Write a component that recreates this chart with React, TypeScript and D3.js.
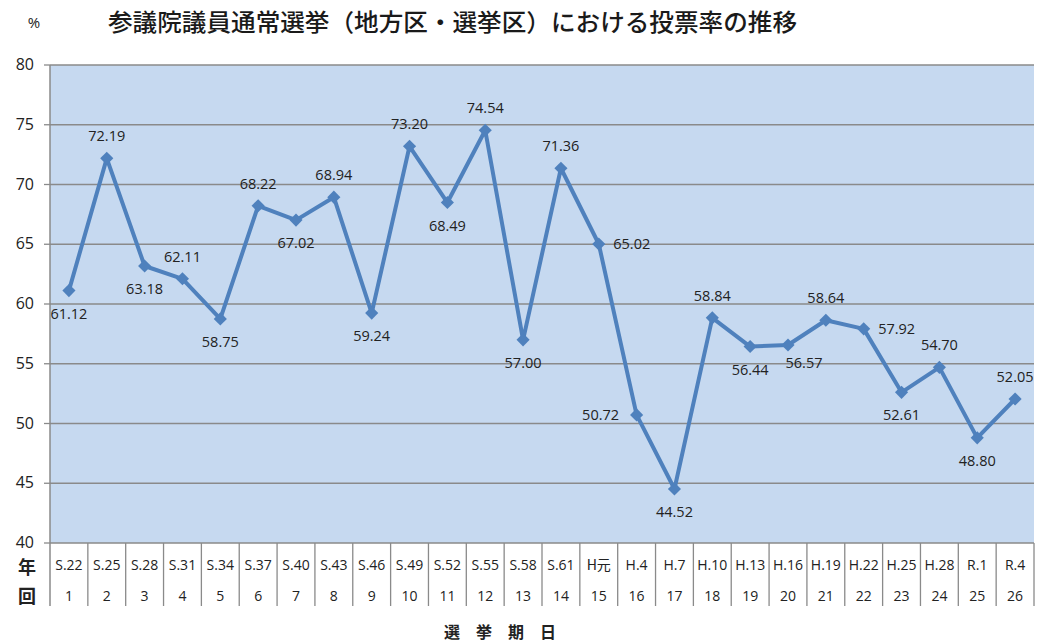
import { useEffect } from 'react';
import * as d3 from 'd3';

const title = '参議院議員通常選挙（地方区・選挙区）における投票率の推移';
const eraLabels = ['S.22', 'S.25', 'S.28', 'S.31', 'S.34', 'S.37', 'S.40', 'S.43', 'S.46', 'S.49', 'S.52', 'S.55', 'S.58', 'S.61', 'H元', 'H.4', 'H.7', 'H.10', 'H.13', 'H.16', 'H.19', 'H.22', 'H.25', 'H.28', 'R.1', 'R.4'];
const rounds = d3.range(1, 27);
const turnout = [61.12, 72.19, 63.18, 62.11, 58.75, 68.22, 67.02, 68.94, 59.24, 73.2, 68.49, 74.54, 57.0, 71.36, 65.02, 50.72, 44.52, 58.84, 56.44, 56.57, 58.64, 57.92, 52.61, 54.7, 48.8, 52.05];
const yTicks = [40, 45, 50, 55, 60, 65, 70, 75, 80];

// where each value label sits relative to its marker
const labelPos = ['b', 't', 'b', 't', 'b', 't', 'b', 't', 'b', 't', 'b', 't', 'b', 't', 'r', 'l', 'b', 't', 'b', 'br', 't', 'r', 'b', 't', 'b', 't'];

const W = 1054;
const H = 643;
const margin = { top: 65, right: 20, bottom: 100, left: 50 };
const FONT = '"Open Sans", "Noto Sans", sans-serif';
const JP = '"Noto Sans CJK JP", sans-serif';

export default function App() {
  useEffect(() => {
    document.body.style.margin = '0';
  }, []);

  const x = d3.scaleBand<number>()
    .domain(rounds)
    .range([margin.left, W - margin.right]);
  const y = d3.scaleLinear().domain([40, 80]).range([H - margin.bottom, margin.top]);

  const cx = (i: number) => (x(rounds[i]) ?? 0) + x.bandwidth() / 2;
  const line = d3.line<number>()
    .x((_, i) => cx(i))
    .y((d) => y(d));

  const plotBottom = y(40);
  const tableBottom = plotBottom + 63;
  const grey = '#8a8a8a';

  const offset = (p: string) => {
    switch (p) {
      case 't': return { dx: 0, dy: -17 };
      case 'b': return { dx: 0, dy: 28 };
      case 'r': return { dx: 33, dy: 5 };
      case 'l': return { dx: -36, dy: 5 };
      case 'br': return { dx: 16, dy: 23 };
      default: return { dx: 0, dy: 0 };
    }
  };

  return (
    <svg width={W} height={H} style={{ display: 'block', background: '#fff' }}>
      <text x={34} y={28} fontFamily={FONT} fontSize={15} fill="#222" textAnchor="middle">%</text>
      <text x={108} y={31} fontFamily={JP} fontSize={24} fontWeight={500} fill="#1a1a1a" textLength={689} lengthAdjust="spacingAndGlyphs">{title}</text>

      <rect x={margin.left} y={margin.top} width={W - margin.left - margin.right} height={plotBottom - margin.top} fill="#c6d9f0" />

      {yTicks.map((t) => (
        <g key={t}>
          <line x1={margin.left} x2={W - margin.right} y1={y(t)} y2={y(t)} stroke={grey} strokeWidth={1.3} />
          <line x1={margin.left - 6} x2={margin.left} y1={y(t)} y2={y(t)} stroke={grey} strokeWidth={1.3} />
          <text x={34} y={y(t) + 5} fontFamily={FONT} fontSize={16} fill="#222" textAnchor="end">{t}</text>
        </g>
      ))}

      <line x1={margin.left} x2={margin.left} y1={margin.top} y2={tableBottom} stroke={grey} strokeWidth={1.5} />
      {rounds.map((r) => (
        <line key={r} x1={(x(r) ?? 0) + x.bandwidth()} x2={(x(r) ?? 0) + x.bandwidth()} y1={plotBottom} y2={tableBottom} stroke={grey} strokeWidth={1.3} />
      ))}

      {eraLabels.map((lab, i) => (
        <text key={lab} x={cx(i)} y={plotBottom + 27} fontFamily={lab === 'H元' ? JP : FONT} fontSize={14} fill="#222" textAnchor="middle">{lab}</text>
      ))}
      {rounds.map((r, i) => (
        <text key={r} x={cx(i)} y={plotBottom + 58} fontFamily={FONT} fontSize={14} fill="#222" textAnchor="middle">{r}</text>
      ))}
      <text x={27} y={plotBottom + 31} fontFamily={JP} fontSize={18} fontWeight={700} fill="#222" textAnchor="middle">年</text>
      <text x={27} y={plotBottom + 60} fontFamily={JP} fontSize={18} fontWeight={700} fill="#222" textAnchor="middle">回</text>

      <text x={500} y={638} fontFamily={JP} fontSize={16} fontWeight={700} fill="#222" textAnchor="middle">選　挙　期　日</text>

      <path d={line(turnout) ?? ''} fill="none" stroke="#4f81bd" strokeWidth={4} strokeLinejoin="round" />
      {turnout.map((v, i) => (
        <path key={i} d={d3.symbol(d3.symbolDiamond2, 110)() ?? ''} transform={`translate(${cx(i)},${y(v)})`} fill="#4f81bd" />
      ))}
      {turnout.map((v, i) => {
        const o = offset(labelPos[i]);
        return (
          <text key={i} x={cx(i) + o.dx} y={y(v) + o.dy} fontFamily={FONT} fontSize={14.5} fill="#222" textAnchor="middle">{v.toFixed(2)}</text>
        );
      })}
    </svg>
  );
}
